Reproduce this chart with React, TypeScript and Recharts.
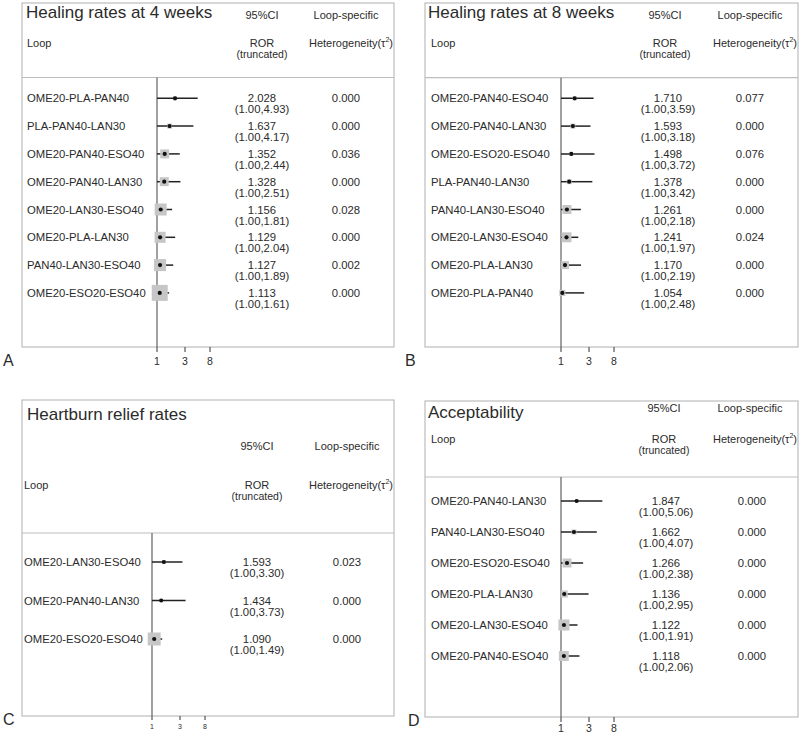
import React from 'react'
import { ScatterChart, Scatter, XAxis, YAxis, ErrorBar, ReferenceLine } from 'recharts'

// A: healing rates at 4 weeks
const loopsA = ['OME20-PLA-PAN40', 'PLA-PAN40-LAN30', 'OME20-PAN40-ESO40', 'OME20-PAN40-LAN30', 'OME20-LAN30-ESO40', 'OME20-PLA-LAN30', 'PAN40-LAN30-ESO40', 'OME20-ESO20-ESO40']
const rorA = [2.028, 1.637, 1.352, 1.328, 1.156, 1.129, 1.127, 1.113]
const upperA = [4.93, 4.17, 2.44, 2.51, 1.81, 2.04, 1.89, 1.61]
const tauA = [0.0, 0.0, 0.036, 0.0, 0.028, 0.0, 0.002, 0.0]
const weightA = [25, 31, 56, 56, 75, 69, 75, 100]

// B: healing rates at 8 weeks
const loopsB = ['OME20-PAN40-ESO40', 'OME20-PAN40-LAN30', 'OME20-ESO20-ESO40', 'PLA-PAN40-LAN30', 'PAN40-LAN30-ESO40', 'OME20-LAN30-ESO40', 'OME20-PLA-LAN30', 'OME20-PLA-PAN40']
const rorB = [1.71, 1.593, 1.498, 1.378, 1.261, 1.241, 1.17, 1.054]
const upperB = [3.59, 3.18, 3.72, 3.42, 2.18, 1.97, 2.19, 2.48]
const tauB = [0.077, 0.0, 0.076, 0.0, 0.0, 0.024, 0.0, 0.0]
const weightB = [25, 31, 25, 31, 56, 62, 50, 38]

// C: heartburn relief rates
const loopsC = ['OME20-LAN30-ESO40', 'OME20-PAN40-LAN30', 'OME20-ESO20-ESO40']
const rorC = [1.593, 1.434, 1.09]
const upperC = [3.3, 3.73, 1.49]
const tauC = [0.023, 0.0, 0.0]
const weightC = [25, 19, 81]

// D: acceptability
const loopsD = ['OME20-PAN40-LAN30', 'PAN40-LAN30-ESO40', 'OME20-ESO20-ESO40', 'OME20-PLA-LAN30', 'OME20-LAN30-ESO40', 'OME20-PAN40-ESO40']
const rorD = [1.847, 1.662, 1.266, 1.136, 1.122, 1.118]
const upperD = [5.06, 4.07, 2.38, 2.95, 1.91, 2.06]
const tauD = [0.0, 0.0, 0.0, 0.0, 0.0, 0.0]
const weightD = [19, 31, 56, 44, 69, 62]

const LOWER = 1.0 // truncated lower bound
const xTicks = [1, 3, 8]
const X_DOMAIN = [0.5, 20]

const FONT = '"Liberation Sans", Arial, sans-serif'
const INK = '#2b2b2b'
const BORDER = '#bdbdbd'
const PX_PER_LN = 25.5
const MAX_SQUARE = 16
const ROW_FONT = 11.3

interface Layout {
  title: string
  letter: string
  ox: number; oy: number; w: number; h: number
  boxL: number; boxR: number; boxT: number; sep: number; boxB: number
  axisX: number; rowTop: number; rowStep: number
  titleX: number; titleY: number
  ciY: number; loopY: number; truncY: number
  headLoopX: number; headRorX: number; headSpecX: number; headHetX: number
  labelX: number; rorX: number; tauX: number
  tickY: number; tickFont: number
  letterX: number; letterY: number
}

interface PanelData {
  loops: string[]; ror: number[]; upper: number[]; tau: number[]; weight: number[]
}

const layouts: Layout[] = [
  {
    title: 'Healing rates at 4 weeks', letter: 'A', ox: 0, oy: 0, w: 400, h: 370,
    boxL: 22, boxR: 394, boxT: 3, sep: 77.5, boxB: 347, axisX: 157, rowTop: 98.3, rowStep: 27.8,
    titleX: 26, titleY: 17.5, ciY: 19, loopY: 47, truncY: 58,
    headLoopX: 27, headRorX: 262, headSpecX: 346, headHetX: 351,
    labelX: 27, rorX: 262, tauX: 346, tickY: 365, tickFont: 10.5, letterX: 3, letterY: 366,
  },
  {
    title: 'Healing rates at 8 weeks', letter: 'B', ox: 400, oy: 0, w: 400, h: 370,
    boxL: 425, boxR: 798, boxT: 3, sep: 77.7, boxB: 347, axisX: 561, rowTop: 98.3, rowStep: 27.8,
    titleX: 428, titleY: 17.5, ciY: 19, loopY: 47, truncY: 58,
    headLoopX: 431, headRorX: 665, headSpecX: 750, headHetX: 755,
    labelX: 431, rorX: 668, tauX: 750, tickY: 365, tickFont: 10.5, letterX: 405, letterY: 366,
  },
  {
    title: 'Heartburn relief rates', letter: 'C', ox: 0, oy: 370, w: 400, h: 363,
    boxL: 22, boxR: 394, boxT: 400, sep: 533, boxB: 716, axisX: 152, rowTop: 562, rowStep: 38.5,
    titleX: 27, titleY: 420, ciY: 450, loopY: 489, truncY: 500,
    headLoopX: 24, headRorX: 257, headSpecX: 347, headHetX: 351,
    labelX: 24, rorX: 257, tauX: 347, tickY: 729, tickFont: 7, letterX: 3, letterY: 725,
  },
  {
    title: 'Acceptability', letter: 'D', ox: 400, oy: 370, w: 400, h: 363,
    boxL: 425, boxR: 798, boxT: 401, sep: 477, boxB: 717, axisX: 561, rowTop: 501, rowStep: 31,
    titleX: 428, titleY: 418, ciY: 412, loopY: 443, truncY: 454,
    headLoopX: 431, headRorX: 664, headSpecX: 750, headHetX: 755,
    labelX: 431, rorX: 666, tauX: 752, tickY: 732, tickFont: 10.5, letterX: 408, letterY: 726,
  },
]

const panels: PanelData[] = [
  { loops: loopsA, ror: rorA, upper: upperA, tau: tauA, weight: weightA },
  { loops: loopsB, ror: rorB, upper: upperB, tau: tauB, weight: weightB },
  { loops: loopsC, ror: rorC, upper: upperC, tau: tauC, weight: weightC },
  { loops: loopsD, ror: rorD, upper: upperD, tau: tauD, weight: weightD },
]

function Frame({ L }: { L: Layout }) {
  return (
    <g fontFamily={FONT} fill={INK}>
      <rect x={L.boxL} y={L.boxT} width={L.boxR - L.boxL} height={L.boxB - L.boxT} fill="none" stroke={BORDER} strokeWidth={1.2} />
      <line x1={L.boxL} x2={L.boxR} y1={L.sep} y2={L.sep} stroke={BORDER} strokeWidth={1.2} />
      <text x={L.titleX} y={L.titleY} fontSize={17}>{L.title}</text>
      <text x={L.headRorX} y={L.ciY} fontSize={11} textAnchor="middle">95%CI</text>
      <text x={L.headSpecX} y={L.ciY} fontSize={11} textAnchor="middle">Loop-specific</text>
      <text x={L.headLoopX} y={L.loopY} fontSize={11}>Loop</text>
      <text x={L.headRorX} y={L.loopY} fontSize={11}>
        <tspan x={L.headRorX} textAnchor="middle">ROR</tspan>
      </text>
      <text x={L.headRorX} y={L.truncY} fontSize={10.5} textAnchor="middle">(truncated)</text>
      <text x={L.headHetX} y={L.loopY} fontSize={11} textAnchor="middle">
        Heterogeneity(τ<tspan fontSize={7} dy={-5}>2</tspan><tspan dy={5}>)</tspan>
      </text>
      <text x={L.letterX} y={L.letterY} fontSize={16}>{L.letter}</text>
    </g>
  )
}

function ForestPanel({ L, D }: { L: Layout; D: PanelData }) {
  const rows = D.loops.map((loop, i) => ({
    row: i,
    loop,
    est: D.ror[i],
    err: [D.ror[i] - LOWER, D.upper[i] - D.ror[i]],
    weight: D.weight[i],
  }))
  const rowIdx = rows.map((r) => r.row)
  const yMin = -(L.rowTop - L.sep) / L.rowStep
  const yMax = (L.boxB - L.rowTop) / L.rowStep
  const plotL = L.axisX - Math.log(1 / X_DOMAIN[0]) * PX_PER_LN
  const plotR = L.axisX + Math.log(X_DOMAIN[1]) * PX_PER_LN
  const xAxisH = 14
  const yAxisW = 1
  const margin = {
    top: L.sep - L.oy,
    bottom: L.oy + L.h - L.boxB - xAxisH,
    left: plotL - L.ox - yAxisW,
    right: L.ox + L.w - plotR,
  }

  const rowTick = (props: any) => {
    const i = props.payload.value
    const y = props.y
    return (
      <g fontFamily={FONT} fill={INK} fontSize={ROW_FONT}>
        <text x={L.labelX - L.ox} y={y + 4}>{D.loops[i]}</text>
        <text x={L.rorX - L.ox} y={y + 4} textAnchor="middle">{D.ror[i].toFixed(3)}</text>
        <text x={L.rorX - L.ox} y={y + 15} textAnchor="middle">
          ({LOWER.toFixed(2)},{D.upper[i].toFixed(2)})
        </text>
        <text x={L.tauX - L.ox} y={y + 4} textAnchor="middle">{D.tau[i].toFixed(3)}</text>
      </g>
    )
  }

  const axisTick = (props: any) => (
    <text x={props.x} y={L.tickY - L.oy} textAnchor="middle" fontFamily={FONT} fontSize={L.tickFont} fill={INK}>
      {props.payload.value}
    </text>
  )

  const square = (props: any) => {
    const s = (props.payload.weight / 100) * MAX_SQUARE
    return <rect x={props.cx - s / 2} y={props.cy - s / 2} width={s} height={s} fill="#c6c6c6" />
  }
  const dot = (props: any) => <circle cx={props.cx} cy={props.cy} r={2.1} fill="#111" />

  return (
    <div style={{ position: 'absolute', left: L.ox, top: L.oy }}>
      <ScatterChart width={L.w} height={L.h} margin={margin}>
        <XAxis
          type="number"
          dataKey="est"
          scale="log"
          domain={X_DOMAIN}
          allowDataOverflow
          ticks={xTicks}
          interval={0}
          height={xAxisH}
          axisLine={false}
          tickSize={L.tickFont < 9 ? 4 : 5}
          tickLine={{ stroke: '#555', strokeWidth: 1.2 }}
          tick={axisTick}
        />
        <YAxis
          type="number"
          dataKey="row"
          domain={[yMin, yMax]}
          allowDataOverflow
          reversed
          ticks={rowIdx}
          interval={0}
          width={yAxisW}
          axisLine={false}
          tickLine={false}
          tick={rowTick}
        />
        <ReferenceLine x={1} stroke="#6e6e6e" strokeWidth={1.3} />
        <Scatter data={rows} shape={square} isAnimationActive={false} />
        <Scatter data={rows} shape={dot} isAnimationActive={false}>
          <ErrorBar dataKey="err" direction="x" width={0} stroke="#222" strokeWidth={1.5} />
        </Scatter>
      </ScatterChart>
    </div>
  )
}

export default function App() {
  return (
    <div style={{ position: 'absolute', left: 0, top: 0, width: 800, height: 733, background: '#fff' }}>
      <svg width={800} height={733} style={{ position: 'absolute', left: 0, top: 0 }}>
        {layouts.map((L) => (
          <Frame key={L.letter} L={L} />
        ))}
      </svg>
      {layouts.map((L, i) => (
        <ForestPanel key={L.letter} L={L} D={panels[i]} />
      ))}
    </div>
  )
}
